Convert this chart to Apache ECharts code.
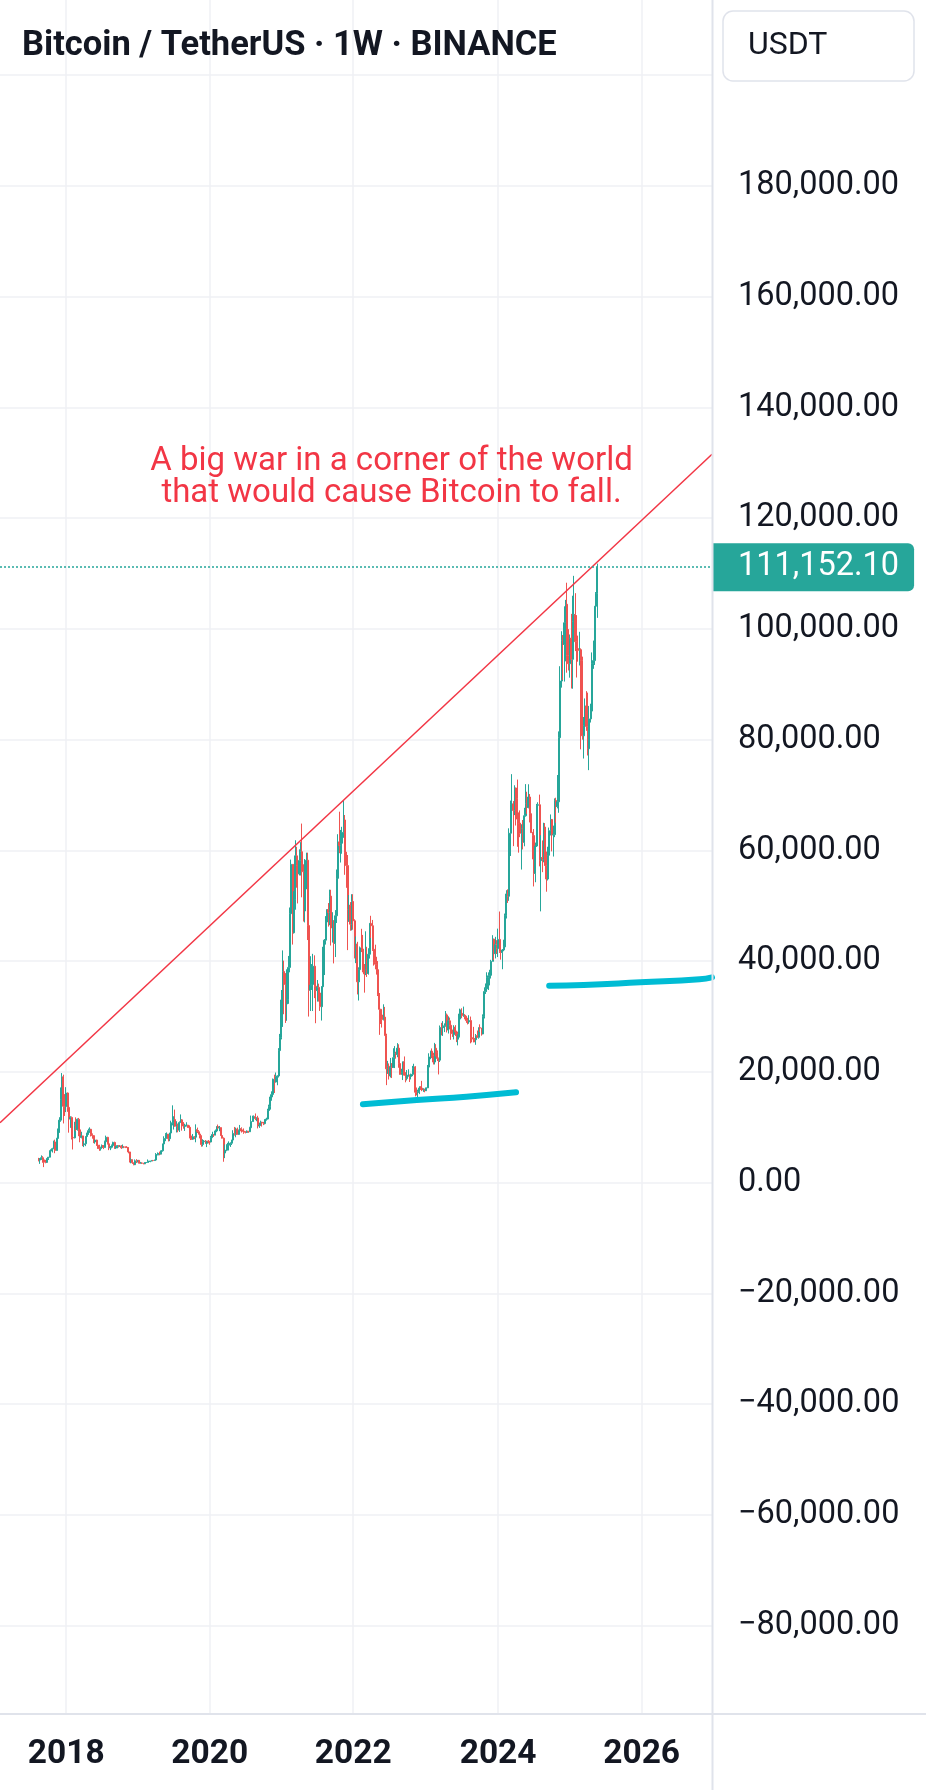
<!DOCTYPE html>
<html lang="en">
<head>
	<meta charset="UTF-8">
	<title>Bitcoin / TetherUS · 1W · BINANCE</title>
	<style>
		html, body { margin: 0; padding: 0; background: #fff; }
		#chart { width: 926px; height: 1790px; }
	</style>
</head>
<body>
	<div id="chart"></div>

	<script src="https://cdn.jsdelivr.net/npm/echarts@6/dist/echarts.min.js"></script>
	<script>
		// BTCUSDT weekly candles, one row per week: [close, high, low]
		// open of a week = close of the week before (market never closes)
		var firstWeek = '2017-08-14';
		var firstOpen = 4261;

		var w2017 = [
			[4086,4485,3850],[4310,4453,3400],[4509,4939,4124],[4130,4788,3603],[3700,4394,2817],
			[3660,4123,3505],[4379,4406,3653],[4610,4650,4110],[5710,5840,4550],[5930,6000,5100],
			[6150,6300,5450],[7360,7590,6050],[5811,7776,5325],[8000,8100,5800],[9716,9750,7900],
			[11300,11825,9000],[15000,17204,11000],[19100,19798,14800],[13800,19500,10700],[13750,16000,12050]
		];
		var w2018 = [
			[16200,17250,12750],[13600,16300,12800],[11500,14400,9035],[11780,12000,9900],[8180,11960,7800],
			[8100,8700,6000],[10380,11000,8000],[9600,11800,9300],[11460,11600,9400],[9550,11700,8400],
			[8200,9900,7300],[8450,9200,8000],[6850,8500,6600],[7030,7500,6430],[8340,8400,6600],
			[8800,9035,7800],[9400,9760,8650],[9650,10000,9000],[8700,9700,8350],[8500,8900,7950],
			[7350,8600,7150],[7700,7780,7040],[6780,7770,6650],[6450,6800,6100],[6150,6850,5750],
			[6350,6500,5800],[6720,6900,6300],[6350,6800,6070],[7400,7600,6300],[8200,8500,7400],
			[7030,8280,6900],[6300,7160,5880],[6400,6620,5880],[6700,6900,6200],[7270,7400,6650],
			[6250,7410,6100],[6500,6600,6100],[6700,6800,6200],[6600,6800,6350],[6600,6700,6450],
			[6300,6790,6100],[6460,6900,6250],[6420,6600,6350],[6400,6550,6250],[6350,6600,6300],
			[5550,6450,5300],[3950,5600,3650],[4150,4400,3500],[3600,4200,3400],[3250,3650,3150],
			[3950,4200,3220],[3850,4250,3550],[4040,4100,3650]
		];
		var w2019 = [
			[3510,4070,3450],[3550,3750,3450],[3530,3650,3450],[3410,3560,3330],[3640,3680,3370],
			[3650,3700,3550],[3840,4200,3650],[3850,3950,3700],[3910,3950,3700],[4020,4050,3850],
			[4000,4100,3900],[4100,4150,3940],[5050,5350,4100],[5070,5470,4950],[5300,5350,4950],
			[5160,5620,4960],[5770,5900,5150],[7000,7050,5600],[7990,8380,6600],[8720,8950,7500],
			[8740,9080,8050],[7950,8820,7450],[8970,9000,7500],[10750,11200,8900],[10800,13970,10350],
			[11400,12000,9600],[10200,13200,10100],[10550,11100,9070],[9500,10650,9100],[10850,11080,9160],
			[11350,12330,10800],[10230,11450,9400],[10150,10950,9750],[10350,10650,9350],[10400,10920,10150],
			[10300,10450,9900],[10000,10350,9860],[8050,10050,7700],[7850,8500,7750],[8300,8800,7780],
			[8220,8420,7850],[9550,10540,7300],[9200,9950,8970],[8800,9500,8700],[8500,9100,8000],
			[6900,8520,6500],[7400,7850,6550],[7500,7700,7150],[7100,7700,7000],[7500,7520,6430],
			[7400,7700,7100],[7350,7550,6850]
		];
		var w2020 = [
			[8180,8450,7300],[8700,9200,8050],[8600,8800,8250],[9350,9600,8550],[10150,10170,9120],
			[9900,10500,9700],[9950,10250,9300],[8520,10000,8450],[8030,9200,8000],[5360,8180,3782],
			[5820,6900,4440],[5880,6950,5690],[6780,7200,5860],[6900,7470,6750],[7130,7290,6460],
			[7700,7740,6800],[8900,9480,7650],[8750,10070,8500],[9680,9950,8200],[8720,9950,8700],
			[9450,9600,8630],[9750,10430,9270],[9340,10000,9050],[9300,9600,9250],[9110,9800,8830],
			[9070,9300,8900],[9300,9450,9050],[9200,9350,9000],[9930,10100,9150],[11050,12120,9900],
			[11650,12100,11000],[11900,12150,11100],[11650,12500,11300],[11700,11800,11100],[10250,12080,9800],
			[10330,10850,9900],[10920,11200,10270],[10770,10980,10130],[10670,10980,10400],[11390,11500,10530],
			[11500,11730,11200],[13030,13350,11400],[13750,14090,12900],[15480,15960,13200],[15950,16500,14800],
			[18680,18800,15800],[18180,19500,16200],[19150,19900,18100],[19280,19400,17600],[23860,24300,19000],
			[26250,26870,21800],[33000,34800,25880]
		];
		var w2021 = [
			[38150,41950,28130],[35790,40100,30420],[32280,37850,28850],[33100,38530,29240],[38880,40950,32300],
			[48580,49700,37990],[57490,58350,47000],[45140,57530,43000],[51200,52640,45000],[59030,61840,49300],
			[57350,60660,53270],[55780,58420,50430],[58200,60200,55480],[59770,61500,55470],[56150,64850,51540],
			[49070,57500,47160],[56650,58450,47000],[58240,59600,53000],[46430,59600,43820],[34760,46660,30000],
			[35680,40900,31000],[35800,39480,34800],[39100,41330,31000],[35490,41060,33330],[34700,35750,28800],
			[35280,36600,32700],[34260,35950,32700],[31780,34680,31020],[35400,35500,29280],[39850,42600,35250],
			[43800,44000,37500],[47080,48140,43000],[49320,49350,43950],[48800,50500,46250],[51750,52920,46500],
			[46000,52900,42830],[47250,48850,43370],[43200,47400,39600],[48200,49230,40750],[54960,56560,46900],
			[61530,62930,54000],[60860,67000,59500],[61300,63700,57820],[63270,64270,59400],[65500,69000,62280],
			[59700,66400,55600],[57270,59550,53250],[49400,59180,42000],[50100,51950,47100],[46680,50670,45500],
			[50780,52100,45550],[47300,52100,45680]
		];
		var w2022 = [
			[41860,47570,40500],[43080,44460,39650],[36280,43500,34000],[38480,38900,32900],[42410,42650,36250],
			[42200,45850,41650],[38400,44750,38000],[37700,39490,34320],[38420,45400,37480],[37780,42600,37150],
			[41260,42340,37570],[46830,46900,40470],[46400,48200,44200],[42160,47450,41860],[39700,42420,39200],
			[39450,42980,38540],[38470,40800,37580],[34060,40030,33710],[31310,34250,26700],[30290,31400,28650],
			[29450,30650,28020],[29900,32220,29300],[26570,31750,26560],[20560,26900,17620],[21030,22000,19650],
			[19300,21540,18630],[20830,22530,19000],[20800,21600,18900],[22580,24280,20750],[23300,24670,20700],
			[23170,23650,22400],[24300,25210,22660],[21520,25000,20760],[19560,21900,19520],[19830,20580,19520],
			[21830,21860,18540],[19420,22800,19320],[18800,19960,18130],[19310,20350,18470],[19440,20480,19150],
			[19180,19520,18190],[19570,19700,18650],[20630,21090,19240],[20900,21480,20050],[16330,21050,15590],
			[16280,17190,15770],[16430,16800,15480],[17100,17420,16000],[17090,17430,16750],[16740,18390,16530],
			[16840,17060,16400],[16620,16970,16330]
		];
		var w2023 = [
			[17130,17180,16550],[20880,21260,17080],[22710,23370,20400],[23750,23820,22300],[22940,24250,22500],
			[21790,23460,21350],[24280,25250,21350],[23560,25020,22800],[22430,23880,21970],[22130,22600,19550],
			[28040,28390,21800],[27990,28870,26600],[28170,29180,26500],[28330,28780,27200],[30300,31000,28170],
			[27590,30550,27130],[29230,30040,26940],[28430,29820,27680],[26910,29000,25800],[26750,27650,26330],
			[28070,28440,25870],[27230,28450,26500],[25910,27450,25390],[26340,26800,24800],[30470,31430,26240],
			[30590,31280,29500],[30160,31500,29700],[30240,31800,29950],[30080,30440,29500],[29270,30080,28860],
			[29050,29780,28580],[29280,30250,28700],[26190,30000,25170],[26010,26800,25350],[25970,28140,25330],
			[25830,26140,25360],[26530,26850,24900],[26250,27480,26150],[27990,28050,26000],[27920,28600,27220],
			[26860,27950,26550],[29990,30400,26820],[34520,35280,29660],[35010,35980,34080],[37060,38000,34520],
			[37360,37980,34800],[37450,38450,35630],[39970,40250,36870],[43990,44700,39980],[41370,44050,40200],
			[42990,44400,40500],[42280,43800,41300]
		];
		var w2024 = [
			[43930,45880,40750],[41730,48970,41500],[41580,43580,40280],[42030,42200,38550],[42580,43880,41800],
			[48300,48600,42260],[52140,52820,47710],[51730,52980,50520],[63110,64000,50900],[68360,69000,59000],
			[68390,73780,64500],[67210,68920,60780],[71280,71770,66380],[69360,71330,64500],[65660,72800,60660],
			[64940,66870,59600],[63100,67230,62400],[63890,64730,56550],[61480,65500,60180],[66270,67700,60750],
			[68500,71980,66100],[67760,70600,66600],[69650,71950,67600],[66640,70190,65060],[63210,67230,63200],
			[62680,63350,58400],[55850,63860,53500],[60800,61420,54260],[68170,68400,60630],[68250,68700,63400],
			[58160,70080,57130],[58710,62750,49000],[58430,61800,56080],[64220,65000,57860],[57300,64950,57200],
			[54840,59800,52550],[59130,60670,54580],[63570,64130,57500],[65600,66500,62700],[62820,65560,59830],
			[62850,64480,58900],[69030,69400,62400],[67930,69520,65000],[68780,73620,67600],[80370,81500,66800],
			[90600,93270,80200],[97900,99590,89400],[97200,98900,90770],[101110,104090,90500],[104460,105250,94150],
			[95180,108350,92100],[93720,99960,92500],[98320,99000,91200]
		];
		var w2025 = [
			[94520,102720,89250],[101330,106000,89200],[102620,109590,99500],[97700,106460,96000],[96460,102500,91230],
			[96120,98800,94090],[96260,99480,93400],[94270,96500,78260],[80700,95000,80000],[82570,84100,76600],
			[86080,87450,81130],[82390,88770,81600],[78370,88500,77150],[83760,86100,74500],[85170,86500,83100],
			[93750,95760,85150],[94280,97900,92800],[104100,104150,93500],[106450,106660,100700],[111152.1,111800,102000]
		];
		var lastPrice = 111152.10;

		// time scale: one slot per week, from the left edge of the pane to the right edge
		var axisStart = '2017-01-30';
		var axisWeekCount = 517;
		var yearWeeks = ['2018-01-01', '2019-12-30', '2021-12-27', '2024-01-01', '2025-12-29'];
		var yearLabels = ['2018', '2020', '2022', '2024', '2026'];

		// drawings on the chart: [week, price]
		var resistanceLine = [['2017-01-30', 10840], ['2026-12-21', 131540]];
		var supportLow = [['2022-02-14', 14160], ['2022-11-14', 14930], ['2023-07-24', 15530], ['2024-04-01', 16320]];
		var supportHigh = [['2024-09-16', 35580], ['2025-03-10', 35700], ['2025-12-22', 36190], ['2026-10-19', 36730], ['2026-12-21', 37080]];

		var DAY = 864e5;
		function isoDay(t) { return new Date(t).toISOString().slice(0, 10); }

		var weekCats = [];
		for (var i = 0; i < axisWeekCount; i++) {
			weekCats.push(isoDay(Date.parse(axisStart) + i * 7 * DAY));
		}

		var weeks = [].concat(w2017, w2018, w2019, w2020, w2021, w2022, w2023, w2024, w2025);
		var candles = [];
		var prevClose = firstOpen;
		weeks.forEach(function (w, i) {
			candles.push([isoDay(Date.parse(firstWeek) + i * 7 * DAY), prevClose, w[0], w[2], w[1]]);
			prevClose = w[0];
		});

		function fmtPrice(v) {
			return v.toLocaleString('en-US', { minimumFractionDigits: 2, maximumFractionDigits: 2 }).replace('-', '\u2212');
		}
		function isYearWeek(idx, val) { return yearWeeks.indexOf(val) >= 0; }

		var gridColor = '#eff1f4';
		var edgeColor = '#e0e3eb';

		var option = {
			animation: false,
			backgroundColor: '#ffffff',
			textStyle: { fontFamily: 'Roboto' },
			grid: [
				// price pane: bottom runs past the time axis so that -100k sits just out of view
				{ left: 0, right: 214, top: 0, bottom: 53.55 },
				// time pane: carries the year grid lines and labels
				{ left: 0, right: 214, top: 0, bottom: 76 }
			],
			xAxis: [
				{ gridIndex: 0, type: 'category', data: weekCats, boundaryGap: false, show: false },
				{
					gridIndex: 1, type: 'category', data: weekCats, boundaryGap: false,
					axisLine: { show: false }, axisTick: { show: false },
					axisLabel: {
						interval: isYearWeek,
						formatter: function (val) { return yearLabels[yearWeeks.indexOf(val)]; },
						margin: 41, verticalAlign: 'middle',
						fontSize: 33.5, fontWeight: 'bold', color: '#131722', fontFamily: 'Roboto'
					},
					splitLine: { show: true, interval: isYearWeek, lineStyle: { color: gridColor, width: 1.5 } }
				}
			],
			yAxis: [
				{
					gridIndex: 0, type: 'value', position: 'right',
					min: -100000, max: 213580, interval: 20000,
					axisLine: { show: false }, axisTick: { show: false },
					axisLabel: {
						margin: 26, fontSize: 32.5, color: '#131722', fontFamily: 'Roboto',
						padding: [0, 0, 6, 0],
						showMinLabel: false, showMaxLabel: false,
						formatter: function (v) { return v >= 200000 ? '' : fmtPrice(v); }
					},
					splitLine: { show: true, showMinLine: false, showMaxLine: false, lineStyle: { color: gridColor, width: 1.5 } }
				},
				{ gridIndex: 1, type: 'value', show: false }
			],
			series: [
				{
					name: 'BTCUSDT', type: 'candlestick', xAxisIndex: 0, yAxisIndex: 0,
					data: candles, encode: { x: 0, y: [1, 2, 3, 4] },
					barWidth: 1.5,
					itemStyle: {
						color: '#26a69a', color0: '#ef5350',
						borderColor: '#26a69a', borderColor0: '#ef5350', borderWidth: 1
					},
					markLine: {
						silent: true, symbol: ['none', 'none'],
						data: [{ yAxis: lastPrice }],
						lineStyle: { color: '#26a69a', type: [2, 2], width: 1.5 },
						label: {
							show: true, position: 'end', distance: 1,
							formatter: fmtPrice(lastPrice),
							color: '#ffffff', fontSize: 32.5, fontFamily: 'Roboto', lineHeight: 32,
							backgroundColor: '#26a69a', padding: [7, 15, 9, 25], borderRadius: [0, 6, 6, 0]
						}
					}
				},
				{
					type: 'line', xAxisIndex: 0, yAxisIndex: 0, data: resistanceLine,
					symbol: 'none', silent: true, z: 3,
					lineStyle: { color: '#f23645', width: 1.5 }
				},
				{
					type: 'line', xAxisIndex: 0, yAxisIndex: 0, data: supportLow,
					symbol: 'none', silent: true, smooth: true, z: 4,
					lineStyle: { color: '#00bcd4', width: 6, cap: 'round' }
				},
				{
					type: 'line', xAxisIndex: 0, yAxisIndex: 0, data: supportHigh,
					symbol: 'none', silent: true, smooth: true, z: 4,
					lineStyle: { color: '#00bcd4', width: 6, cap: 'round' }
				}
			],
			graphic: [
				{ type: 'line', silent: true, z: 100, shape: { x1: 712.5, y1: 0, x2: 712.5, y2: 1790 }, style: { stroke: edgeColor, lineWidth: 2 } },
				{ type: 'line', silent: true, z: 100, shape: { x1: 0, y1: 1714, x2: 926, y2: 1714 }, style: { stroke: edgeColor, lineWidth: 2 } },
				{ type: 'rect', silent: true, z: 100, shape: { x: 723, y: 11, width: 191, height: 70, r: 10 }, style: { fill: '#ffffff', stroke: edgeColor, lineWidth: 1.5 } },
				{ type: 'text', silent: true, z: 101, x: 748, y: 46, style: { text: 'USDT', fontSize: 32, fontFamily: 'Roboto', fill: '#131722', verticalAlign: 'middle' } },
				{ type: 'text', silent: true, z: 101, x: 22, y: 46, style: { text: 'Bitcoin / TetherUS \u00b7 1W \u00b7 BINANCE', fontSize: 34.5, fontWeight: 'bold', fontFamily: 'Roboto', fill: '#131722', verticalAlign: 'middle' } },
				{
					type: 'text', silent: true, z: 101, x: 391.5, y: 478,
					style: {
						text: 'A big war in a corner of the world\nthat would cause Bitcoin to fall.',
						fontSize: 33, lineHeight: 31.6, fontFamily: 'Roboto', fill: '#f23645',
						align: 'center', verticalAlign: 'middle'
					}
				}
			]
		};

		var myChart = echarts.init(document.getElementById('chart'));
		myChart.setOption(option);
	</script>
</body>
</html>
